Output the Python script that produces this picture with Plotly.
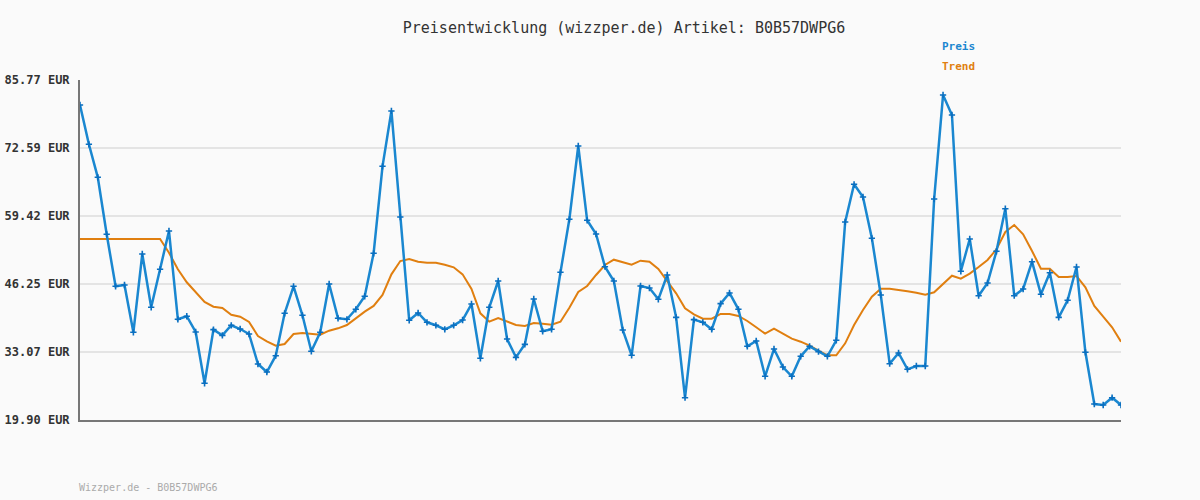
import plotly.graph_objects as go

title_text = "Preisentwicklung (wizzper.de) Artikel: B0B57DWPG6"
footer_text = "Wizzper.de - B0B57DWPG6"

preis = [
    80.93, 73.31, 66.92, 55.88, 45.80, 46.05, 36.89, 52.06, 41.73, 49.10,
    56.52, 39.41, 40.00, 36.95, 27.01, 37.40, 36.30, 38.25, 37.53, 36.56,
    30.75, 29.20, 32.36, 40.57, 45.80, 40.18, 33.21, 36.89, 46.25, 39.60,
    39.41, 41.35, 43.87, 52.20, 69.05, 79.77, 59.23, 39.22, 40.63, 38.83,
    38.25, 37.47, 38.25, 39.27, 42.37, 31.85, 41.73, 46.83, 35.59, 32.04,
    34.56, 43.34, 37.08, 37.47, 48.51, 58.78, 72.98, 58.59, 55.93, 49.60,
    46.83, 37.34, 32.43, 45.86, 45.47, 43.28, 47.99, 39.79, 24.22, 39.34,
    38.83, 37.47, 42.44, 44.50, 41.35, 34.18, 35.21, 28.37, 33.66, 30.17,
    28.37, 32.24, 34.18, 33.14, 32.24, 35.34, 58.26, 65.56, 63.10, 55.10,
    44.12, 30.81, 32.88, 29.72, 30.36, 30.36, 62.72, 82.86, 79.00, 48.71,
    54.97, 43.98, 46.44, 52.58, 60.84, 43.98, 45.28, 50.57, 44.25, 48.44,
    39.79, 43.09, 49.54, 33.02, 23.00, 22.81, 24.22, 22.81,
]

trend = [
    54.97, 54.97, 54.97, 54.97, 54.97, 54.97, 54.97, 54.97, 54.97, 54.97,
    52.30, 49.10, 46.58, 44.70, 42.76, 41.85, 41.60, 40.30, 39.92, 38.89,
    36.17, 35.15, 34.30, 34.62, 36.56, 36.76, 36.63, 36.43, 37.20, 37.66,
    38.30, 39.66, 40.90, 42.00, 44.12, 48.12, 50.70, 51.09, 50.57, 50.38,
    50.38, 49.99, 49.48, 48.12, 45.28, 40.57, 38.95, 39.66, 38.95, 38.30,
    38.11, 38.69, 38.56, 38.37, 38.95, 41.66, 44.70, 45.86, 48.00, 49.93,
    50.96, 50.45, 49.99, 50.77, 50.57, 49.15, 46.83, 44.44, 41.53, 40.37,
    39.53, 39.53, 40.44, 40.44, 40.05, 39.08, 37.86, 36.63, 37.60, 36.56,
    35.65, 35.07, 34.30, 33.33, 32.43, 32.43, 34.75, 38.30, 41.21, 43.79,
    45.35, 45.35, 45.15, 44.83, 44.57, 44.18, 44.64, 46.31, 47.86, 47.28,
    48.25, 49.54, 50.90, 52.97, 56.32, 57.68, 55.88, 52.64, 49.22, 49.22,
    47.60, 47.60, 47.80, 45.61, 42.00, 39.92, 37.86, 35.07,
]

y_ticks = [19.90, 33.07, 46.25, 59.42, 72.59, 85.77]
y_tick_labels = ["19.90 EUR", "33.07 EUR", "46.25 EUR", "59.42 EUR", "72.59 EUR", "85.77 EUR"]

x_idx = list(range(len(preis)))

MONO = "DejaVu Sans Mono"
BLUE = "#1a87d0"
ORANGE = "#e07f10"

fig = go.Figure()
fig.add_trace(go.Scatter(
    x=x_idx, y=trend, mode="lines", name="Trend",
    line=dict(color=ORANGE, width=2), hoverinfo="skip",
))
fig.add_trace(go.Scatter(
    x=x_idx, y=preis, mode="lines+markers", name="Preis",
    line=dict(color=BLUE, width=2.5),
    marker=dict(symbol="cross-thin", size=4.5, line=dict(color="#0a6fc0", width=1.6), color="#0a6fc0"),
))

fig.update_layout(
    width=1200, height=500, autosize=False,
    paper_bgcolor="#fafafa", plot_bgcolor="#fafafa",
    margin=dict(l=80, r=79, t=80, b=80),
    showlegend=False,
    title=dict(text=title_text, x=0.52, xanchor="center", y=0.944, yanchor="middle",
               font=dict(family=MONO, size=15, color="#333333")),
    font=dict(family=MONO),
)
fig.update_xaxes(
    range=[0, len(preis) - 1], showgrid=False, zeroline=False,
    showticklabels=False, ticks="", automargin=False,
    showline=True, linecolor="#777777", linewidth=2,
)
fig.update_yaxes(
    range=[y_ticks[0], y_ticks[-1]], tickvals=y_ticks, ticktext=y_tick_labels,
    showgrid=True, gridcolor="#e4e4e4", gridwidth=2, zeroline=False,
    showline=True, linecolor="#777777", linewidth=2, automargin=False,
    ticks="outside", ticklen=6, tickcolor="rgba(0,0,0,0)",
    tickfont=dict(family=MONO, size=12, color="#333333", weight="bold"),
)

fig.add_annotation(text="<b>Preis</b>", xref="paper", yref="paper", x=0.826, y=1.0 + 33/340,
                   xanchor="left", yanchor="middle", showarrow=False,
                   font=dict(family=MONO, size=11, color=BLUE))
fig.add_annotation(text="<b>Trend</b>", xref="paper", yref="paper", x=0.826, y=1.0 + 13/340,
                   xanchor="left", yanchor="middle", showarrow=False,
                   font=dict(family=MONO, size=11, color=ORANGE))
fig.add_annotation(text=footer_text, xref="paper", yref="paper", x=-0.003, y=-67/340,
                   xanchor="left", yanchor="middle", showarrow=False,
                   font=dict(family=MONO, size=10, color="#aaaaaa"))

fig.write_html("out.html", config={"displayModeBar": False},
               post_script="document.body.style.margin='0px';")
